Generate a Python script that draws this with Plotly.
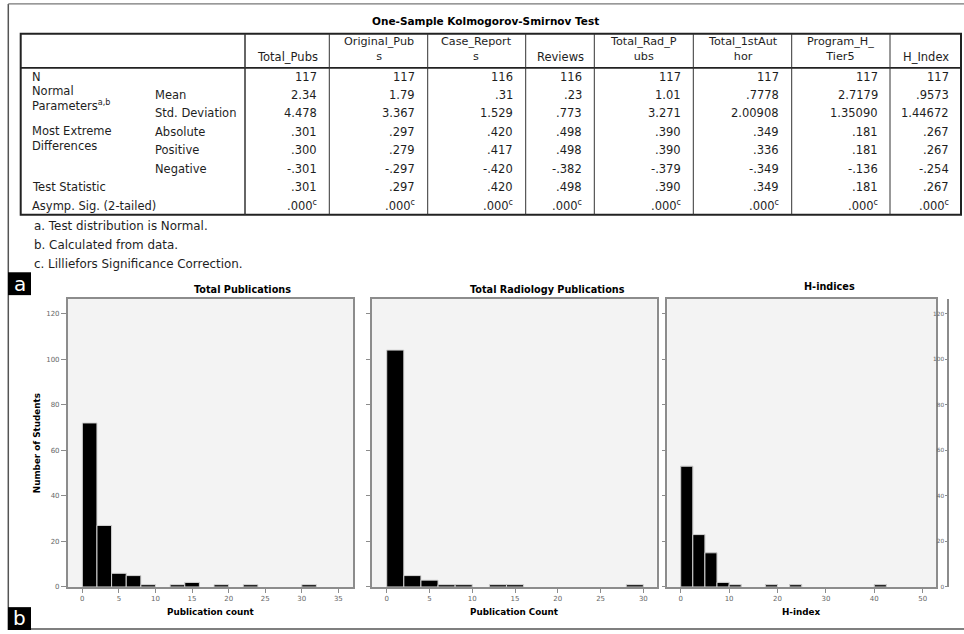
import plotly.graph_objects as go

# ---------------- data ----------------
test_title = "One-Sample Kolmogorov-Smirnov Test"
header_lines = [["Total_Pubs"], ["Original_Pub", "s"], ["Case_Report", "s"], ["Reviews"],
                ["Total_Rad_P", "ubs"], ["Total_1stAut", "hor"], ["Program_H_", "Tier5"], ["H_Index"]]
n_valid = ["117", "117", "116", "116", "117", "117", "117", "117"]
mean_vals = ["2.34", "1.79", ".31", ".23", "1.01", ".7778", "2.7179", ".9573"]
sd_vals = ["4.478", "3.367", "1.529", ".773", "3.271", "2.00908", "1.35090", "1.44672"]
abs_vals = [".301", ".297", ".420", ".498", ".390", ".349", ".181", ".267"]
pos_vals = [".300", ".279", ".417", ".498", ".390", ".336", ".181", ".267"]
neg_vals = ["-.301", "-.297", "-.420", "-.382", "-.379", "-.349", "-.136", "-.254"]
stat_vals = [".301", ".297", ".420", ".498", ".390", ".349", ".181", ".267"]
sig_vals = [".000<sup>c</sup>"] * 8
footnotes = ["a. Test distribution is Normal.", "b. Calculated from data.",
             "c. Lilliefors Significance Correction."]

# histogram bins (left edges) and student counts
pubs_bin_start = [0, 2, 4, 6, 8, 12, 14, 18, 22, 30]
pubs_counts = [72, 27, 6, 5, 1, 1, 2, 1, 1, 1]
rad_bin_start = [0, 2, 4, 6, 8, 12, 14, 28]
rad_counts = [104, 5, 3, 1, 1, 1, 1, 1]
h_bin_start = [0, 2.5, 5, 7.5, 10, 17.5, 22.5, 40]
h_counts = [53, 23, 15, 2, 1, 1, 1, 1]

count_ticks = [0, 20, 40, 60, 80, 100, 120]
pubs_ticks = [0, 5, 10, 15, 20, 25, 30, 35]
rad_ticks = [0, 5, 10, 15, 20, 25, 30]
h_ticks = [0, 10, 20, 30, 40, 50]

# ---------------- layout helpers ----------------
W, H = 964, 634
FONT = "DejaVu Sans"
TXT = "#1e1e1e"


def px(x):
    return x / W


def py(y):
    return 1 - y / H


fig = go.Figure()

# ---------------- histograms ----------------
bar_style = dict(color="black", line=dict(color="#d4d4d4", width=1))
hist_traces = [
    (pubs_bin_start, pubs_counts, 2.0, "x", "y"),
    (rad_bin_start, rad_counts, 2.0, "x2", "y2"),
    (h_bin_start, h_counts, 2.5, "x3", "y3"),
    (h_bin_start, h_counts, 2.5, "x3", "y4"),
]
for starts, counts, w, xa, ya in hist_traces:
    fig.add_trace(go.Bar(x=[s + w / 2 for s in starts], y=counts, width=w,
                         marker=bar_style, xaxis=xa, yaxis=ya,
                         showlegend=False, hoverinfo="x+y"))

frame = dict(showline=True, linecolor="#8c8c8c", linewidth=1.5, mirror=True,
             showgrid=False, zeroline=False, ticks="outside", ticklen=4,
             tickcolor="#8c8c8c", tickwidth=1,
             tickfont=dict(family=FONT, size=7, color="#666666"))
ydom = [py(590.7), py(300.7)]
yrange = [0, 126.5]

fig.update_layout(
    xaxis=dict(frame, domain=[px(67.7), px(353)], range=[-2.0, 37.0],
               tickvals=pubs_ticks, anchor="y"),
    yaxis=dict(frame, domain=ydom, range=yrange, tickvals=count_ticks, anchor="x",
               ticklen=5),
    xaxis2=dict(frame, domain=[px(372), px(656.7)], range=[-1.72, 31.56],
                tickvals=rad_ticks, anchor="y2"),
    yaxis2=dict(frame, domain=ydom, range=yrange, tickvals=count_ticks,
                showticklabels=False, anchor="x2"),
    xaxis3=dict(frame, domain=[px(667.3), px(936)], range=[-2.77, 52.75],
                tickvals=h_ticks, anchor="y3"),
    yaxis3=dict(frame, domain=ydom, range=yrange, tickvals=count_ticks,
                showticklabels=False, anchor="x3"),
    yaxis4=dict(frame, mirror=False, overlaying="y3", anchor="free",
                position=px(948), side="left", range=yrange, tickvals=count_ticks,
                ticklen=2, tickfont=dict(family=FONT, size=5.8, color="#666666")),
)

# ---------------- shapes ----------------
shapes = []


def line(x0, y0, x1, y1, color="#222", width=1):
    shapes.append(dict(type="line", xref="paper", yref="paper",
                       x0=px(x0), y0=py(y0), x1=px(x1), y1=py(y1),
                       line=dict(color=color, width=width)))


# outer figure frame
line(8.3, 4, 8.3, 634, "#555", 1.5)
line(8.3, 4, 964, 4, "#777", 1.2)
line(8.3, 633, 964, 633, "#555", 1.5)

# table grid
col_edges = [20.7, 245, 329.3, 427.7, 525.7, 594.3, 693.3, 791.7, 890, 961]
table_top, header_bottom, table_bottom = 34, 68.3, 216
shapes.append(dict(type="rect", xref="paper", yref="paper",
                   x0=px(col_edges[0]), y0=py(table_bottom),
                   x1=px(col_edges[-1]), y1=py(table_top),
                   line=dict(color="#222", width=2)))
line(col_edges[0], header_bottom, col_edges[-1], header_bottom, "#222", 1.8)
for i, xe in enumerate(col_edges[1:-1]):
    line(xe, table_top, xe, table_bottom, "#333", 1.5 if i == 0 else 1)

# panel letter boxes
for y0, y1 in [(274, 297), (611, 634)]:
    shapes.append(dict(type="rect", xref="paper", yref="paper",
                       x0=px(8), y0=py(y1), x1=px(31), y1=py(y0),
                       fillcolor="black", line=dict(width=0)))

# ---------------- annotations ----------------
ann = []


def text(x, y, s, size=11.5, anchor="left", color=TXT, bold=False, angle=0, align="left"):
    ann.append(dict(x=px(x), y=py(y), xref="paper", yref="paper", text=s,
                    showarrow=False, xanchor=anchor, yanchor="middle",
                    textangle=angle, align=align,
                    font=dict(family=FONT, size=size, color=color,
                              weight="bold" if bold else "normal")))


text(485, 21, test_title, size=10.5, anchor="center", color="black", bold=True)

# column headers (wrapped names are one text block each)
for i, lines_ in enumerate(header_lines):
    cx = (col_edges[i + 1] + col_edges[i + 2]) / 2
    if len(lines_) == 1:
        text(cx, 57.8, lines_[0], anchor="center")
    else:
        text(cx, 49.5, "<br>".join(lines_), anchor="center", size=11.2, align="center")

# stub labels
text(30, 77.3, "N")
text(30, 99.6, "Normal<br>Parameters<sup>a,b</sup>")
text(30, 139.2, "Most Extreme<br>Differences")
text(30, 188.6, "Test Statistic")
text(30, 207.2, "Asymp. Sig. (2-tailed)")
for s, y in [("Mean", 95.6), ("Std. Deviation", 114.2), ("Absolute", 132.8),
             ("Positive", 151.4), ("Negative", 170.0)]:
    text(153, y, s)

# body values
rows = [n_valid, mean_vals, sd_vals, abs_vals, pos_vals, neg_vals, stat_vals, sig_vals]
row_ys = [77.3, 95.6, 114.2, 132.8, 151.4, 170.0, 188.6, 207.2]
for vals, y in zip(rows, row_ys):
    for i, v in enumerate(vals):
        text(col_edges[i + 2] - 10.5, y, v, anchor="right")

for s, y in zip(footnotes, [227.3, 246.7, 266]):
    text(32, y, s, size=11.9)

# panel letters
text(19.5, 285.5, "a", size=20, anchor="center", color="white")
text(19.5, 622, "b", size=20, anchor="center", color="white")

# histogram titles and axis titles
text(242.6, 291, "Total Publications", size=9.7, anchor="center", color="black", bold=True)
text(547.6, 291, "Total Radiology Publications", size=9.7, anchor="center", color="black", bold=True)
text(829, 288, "H-indices", size=9.7, anchor="center", color="black", bold=True)
text(210.3, 616, "Publication count", size=8.8, anchor="center", color="black", bold=True)
text(514.3, 616, "Publication Count", size=8.8, anchor="center", color="black", bold=True)
text(801.7, 616, "H-index", size=8.8, anchor="center", color="black", bold=True)
text(37, 446, "Number of Students", size=8.8, anchor="center", color="black", bold=True, angle=-90)

fig.update_layout(
    width=W, height=H, margin=dict(l=0, r=0, t=0, b=0),
    paper_bgcolor="white", plot_bgcolor="#f3f3f3",
    barmode="overlay", shapes=shapes, annotations=ann,
    font=dict(family=FONT, color=TXT),
)

fig.write_html("out.html")
